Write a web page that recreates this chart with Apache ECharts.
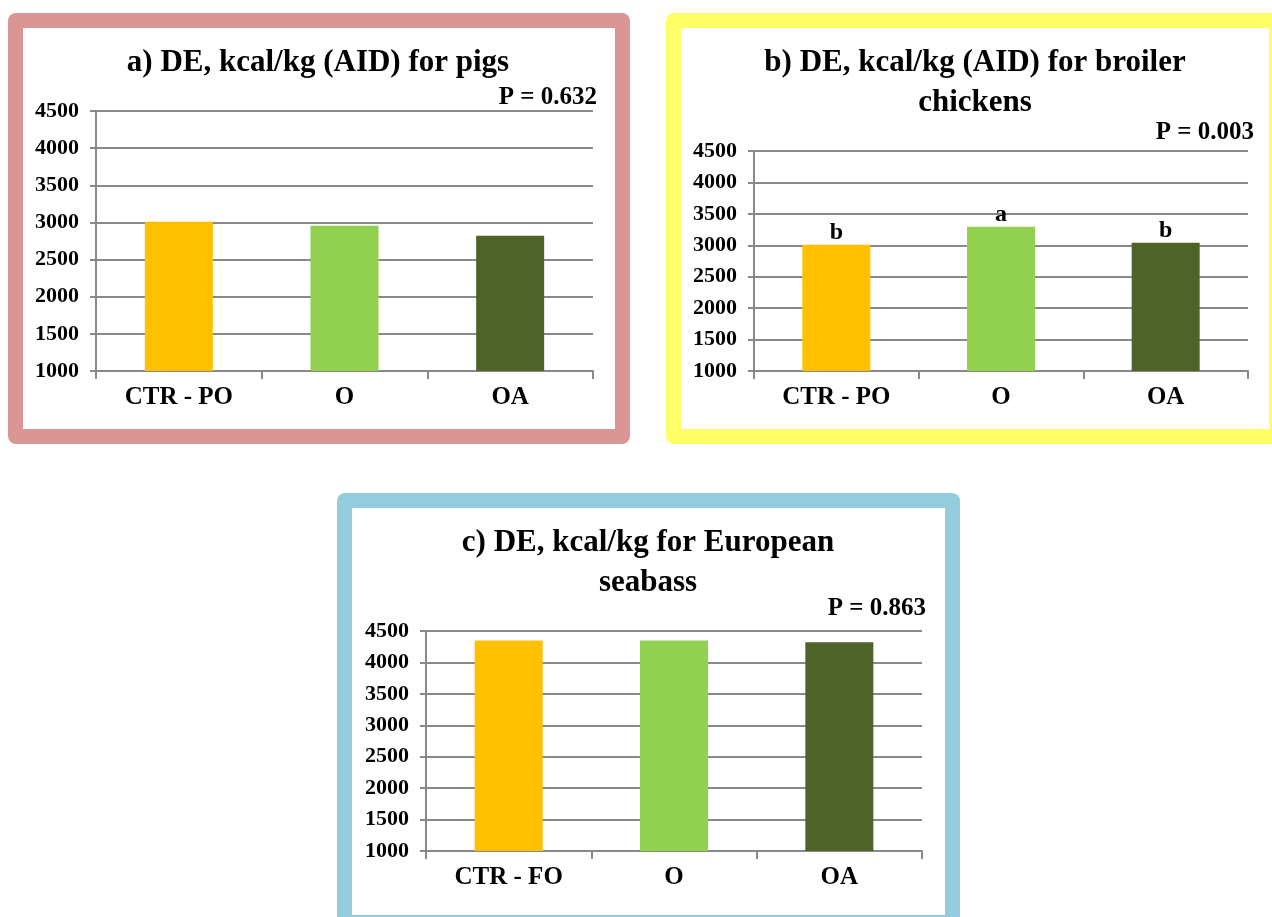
<!DOCTYPE html>
<html>
<head>
<meta charset="utf-8">
<script src="https://cdn.jsdelivr.net/npm/echarts@6/dist/echarts.min.js"></script>
<style>html,body{margin:0;padding:0;background:#fff;}#c{width:1272px;height:917px;}</style>
</head>
<body>
<div id="c"></div>
<script>
// ---- data ----
const categoriesPigs = ['CTR - PO', 'O', 'OA'];
const pigsDE = [3010, 2955, 2820];
const categoriesBroiler = ['CTR - PO', 'O', 'OA'];
const broilerDE = [3010, 3295, 3040];
const broilerLetters = ['b', 'a', 'b'];
const categoriesSeabass = ['CTR - FO', 'O', 'OA'];
const seabassDE = [4350, 4350, 4320];
const yMin = 1000, yMax = 4500, yStep = 500;
const titles = ['a) DE, kcal/kg (AID) for pigs', 'b) DE, kcal/kg (AID) for broiler\nchickens', 'c) DE, kcal/kg for European\nseabass'];
const pValues = ['P = 0.632', 'P = 0.003', 'P = 0.863'];

// ---- style ----
const barColors = ['#FFC000', '#92D050', '#4F6228'];
const frameColors = ['#D99694', '#FFFF66', '#93CDDD'];
const FONT = '"Liberation Serif", "DejaVu Serif", serif';
const gray = '#898989';

const chart = echarts.init(document.getElementById('c'), null, {renderer: 'canvas'});

const grids = [
  {left: 96, top: 111, width: 497, height: 260},
  {left: 754, top: 151, width: 494, height: 220},
  {left: 426, top: 631, width: 496, height: 220}
];
const cats = [categoriesPigs, categoriesBroiler, categoriesSeabass];
const vals = [pigsDE, broilerDE, seabassDE];

function xAxis(i) {
  return {
    type: 'category', gridIndex: i, data: cats[i],
    axisLine: {lineStyle: {color: gray, width: 2}},
    axisTick: {show: true, length: 8, lineStyle: {color: gray, width: 2}},
    axisLabel: {color: '#000', fontFamily: FONT, fontWeight: 'bold', fontSize: 25, margin: 14}
  };
}
function yAxis(i) {
  return {
    type: 'value', gridIndex: i, min: yMin, max: yMax, interval: yStep,
    axisLine: {show: true, lineStyle: {color: gray, width: 2}},
    axisTick: {show: true, length: 6, lineStyle: {color: gray, width: 2}},
    splitLine: {show: true, lineStyle: {color: gray, width: 2}},
    axisLabel: {color: '#000', fontFamily: FONT, fontWeight: 'bold', fontSize: 22, margin: 17,
      formatter: v => String(v)}
  };
}
function series(i) {
  return {
    type: 'bar', xAxisIndex: i, yAxisIndex: i, barWidth: 68,
    data: vals[i].map((v, k) => ({value: v, itemStyle: {color: barColors[k]}})),
    label: i === 1 ? {
      show: true, position: 'top', distance: 0,
      formatter: p => broilerLetters[p.dataIndex],
      color: '#000', fontFamily: FONT, fontWeight: 'bold', fontSize: 24
    } : {show: false},
    animation: false
  };
}

const titleStyle = {color: '#000', fontFamily: FONT, fontWeight: 'bold', fontSize: 31, lineHeight: 40};
const pStyle = {color: '#000', fontFamily: FONT, fontWeight: 'bold', fontSize: 25};

function frame(x0, y0, x1, y1, color) {
  return [
    {type: 'rect', shape: {x: x0, y: y0, width: x1 - x0, height: y1 - y0, r: 8}, style: {fill: color}, z: -10},
    {type: 'rect', shape: {x: x0 + 15, y: y0 + 15, width: x1 - x0 - 30, height: y1 - y0 - 30}, style: {fill: '#fff'}, z: -9}
  ];
}

chart.setOption({
  animation: false,
  backgroundColor: '#fff',
  graphic: {elements: [].concat(
    frame(8, 13, 630, 444, frameColors[0]),
    frame(666, 13, 1284, 444, frameColors[1]),
    frame(337, 493, 960, 930, frameColors[2])
  )},
  title: [
    {text: titles[0], left: 318, top: 43, padding: 0, textAlign: 'center', textStyle: titleStyle},
    {text: titles[1], left: 975, top: 43, padding: 0, textAlign: 'center', textStyle: titleStyle},
    {text: titles[2], left: 648, top: 523, padding: 0, textAlign: 'center', textStyle: titleStyle},
    {text: pValues[0], left: 597, top: 85, padding: 0, textAlign: 'right', textStyle: pStyle},
    {text: pValues[1], left: 1254, top: 120, padding: 0, textAlign: 'right', textStyle: pStyle},
    {text: pValues[2], left: 926, top: 596, padding: 0, textAlign: 'right', textStyle: pStyle}
  ],
  grid: grids,
  xAxis: [0, 1, 2].map(xAxis),
  yAxis: [0, 1, 2].map(yAxis),
  series: [0, 1, 2].map(series)
});
</script>
</body>
</html>
